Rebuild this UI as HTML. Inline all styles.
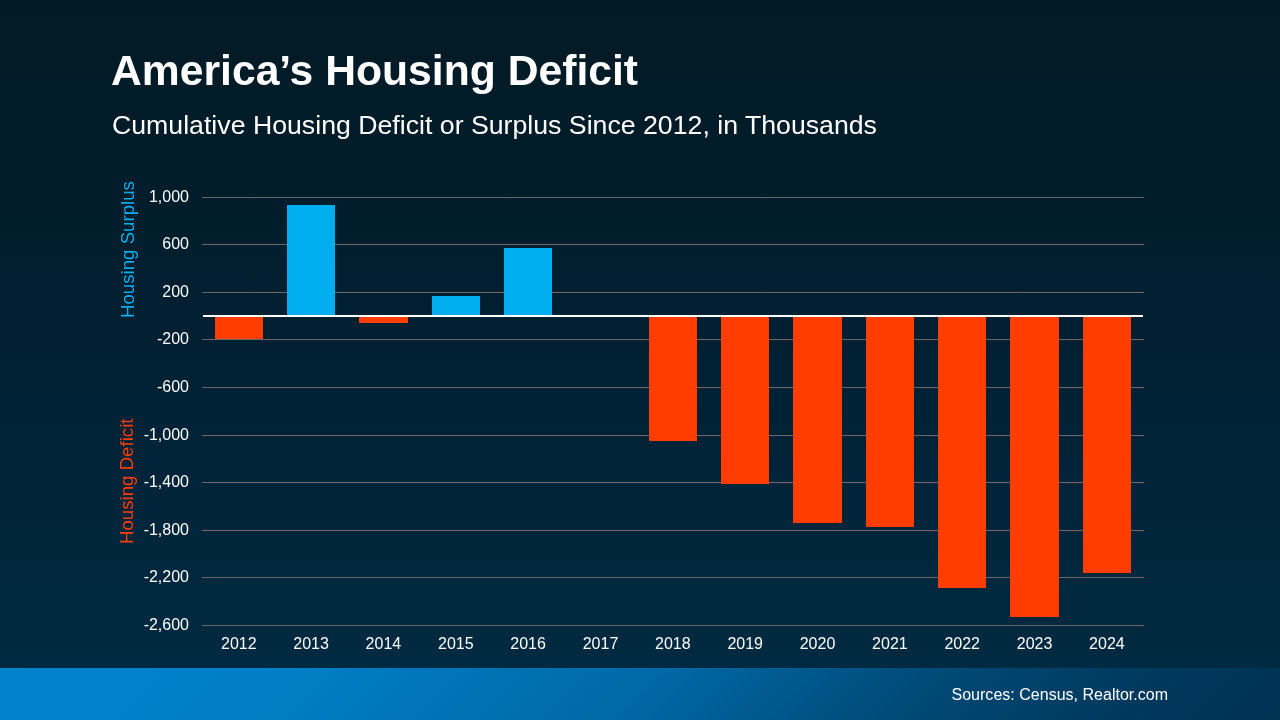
<!DOCTYPE html>
<html lang="en">
<head>
<meta charset="utf-8">
<title>America's Housing Deficit</title>
<style>
html,body{margin:0;padding:0;}
body{width:1280px;height:720px;overflow:hidden;background:#002a41;}
#slide{width:1280px;height:720px;overflow:hidden;position:absolute;left:0;top:0;
 font-family:"Liberation Sans",Arial,sans-serif;color:#fff;
 background:linear-gradient(180deg,#021a25 0px,#011d2b 200px,#002338 450px,#002a41 668px,#002a41 720px);}
.abs{position:absolute;white-space:nowrap;line-height:1;}
#footer{position:absolute;left:0;top:668px;width:1280px;height:52px;
 background:linear-gradient(135deg,#0082ca 0%,#007fc6 22%,#0068a6 50%,#004a76 71%,#00385c 88%,#003253 100%);}
.g{position:absolute;left:202px;width:942px;height:1px;background:#646868;}
.bar{position:absolute;}
.yl{position:absolute;width:80px;left:109px;text-align:right;font-size:16px;line-height:16px;white-space:nowrap;}
.xl{position:absolute;width:72px;text-align:center;font-size:16px;line-height:16px;top:636px;white-space:nowrap;}
.rot{position:absolute;white-space:nowrap;font-size:18.67px;line-height:1;transform-origin:0 0;transform:rotate(-90deg);}
</style>
</head>
<body>
<div id="slide">
<div id="footer"></div>
<div class="abs" id="title" style="left:111px;top:49.2px;font-size:42.67px;font-weight:700;">America’s Housing Deficit</div>
<div class="abs" id="sub" style="left:112px;top:112.1px;font-size:26.7px;">Cumulative Housing Deficit or Surplus Since 2012, in Thousands</div>

<div class="g" style="top:197px"></div>
<div class="g" style="top:244px"></div>
<div class="g" style="top:292px"></div>
<div class="g" style="top:339px"></div>
<div class="g" style="top:387px"></div>
<div class="g" style="top:435px"></div>
<div class="g" style="top:482px"></div>
<div class="g" style="top:530px"></div>
<div class="g" style="top:577px"></div>
<div class="g" style="top:625px"></div>
<div class="bar" style="left:215px;top:317px;width:48px;height:22px;background:#ff3d00"></div>
<div class="bar" style="left:287px;top:205px;width:48px;height:110px;background:#00aeef"></div>
<div class="bar" style="left:359px;top:317px;width:49px;height:6px;background:#ff3d00"></div>
<div class="bar" style="left:432px;top:296px;width:48px;height:19px;background:#00aeef"></div>
<div class="bar" style="left:504px;top:248px;width:48px;height:67px;background:#00aeef"></div>
<div class="bar" style="left:649px;top:317px;width:48px;height:124px;background:#ff3d00"></div>
<div class="bar" style="left:721px;top:317px;width:48px;height:167px;background:#ff3d00"></div>
<div class="bar" style="left:793px;top:317px;width:49px;height:206px;background:#ff3d00"></div>
<div class="bar" style="left:866px;top:317px;width:48px;height:210px;background:#ff3d00"></div>
<div class="bar" style="left:938px;top:317px;width:48px;height:271px;background:#ff3d00"></div>
<div class="bar" style="left:1010px;top:317px;width:49px;height:300px;background:#ff3d00"></div>
<div class="bar" style="left:1083px;top:317px;width:48px;height:256px;background:#ff3d00"></div>
<div class="bar" id="zero" style="left:203px;top:315px;width:940px;height:2px;background:#fff"></div>
<div class="yl" style="top:189px">1,000</div>
<div class="yl" style="top:236px">600</div>
<div class="yl" style="top:284px">200</div>
<div class="yl" style="top:331px">-200</div>
<div class="yl" style="top:379px">-600</div>
<div class="yl" style="top:427px">-1,000</div>
<div class="yl" style="top:474px">-1,400</div>
<div class="yl" style="top:522px">-1,800</div>
<div class="yl" style="top:569px">-2,200</div>
<div class="yl" style="top:617px">-2,600</div>
<div class="xl" style="left:202.8px">2012</div>
<div class="xl" style="left:275.1px">2013</div>
<div class="xl" style="left:347.4px">2014</div>
<div class="xl" style="left:419.8px">2015</div>
<div class="xl" style="left:492.1px">2016</div>
<div class="xl" style="left:564.5px">2017</div>
<div class="xl" style="left:636.8px">2018</div>
<div class="xl" style="left:709.2px">2019</div>
<div class="xl" style="left:781.5px">2020</div>
<div class="xl" style="left:853.9px">2021</div>
<div class="xl" style="left:926.2px">2022</div>
<div class="xl" style="left:998.6px">2023</div>
<div class="xl" style="left:1070.9px">2024</div>
<div class="rot" id="surplus" style="left:119px;top:317.7px;color:#00aeef">Housing Surplus</div>
<div class="rot" id="deficit" style="left:118px;top:544.3px;color:#ff3d00">Housing Deficit</div>
<div class="abs" id="src" style="left:951.5px;top:685.6px;font-size:16.05px;">Sources: Census, Realtor.com</div>
</div>
</body>
</html>
